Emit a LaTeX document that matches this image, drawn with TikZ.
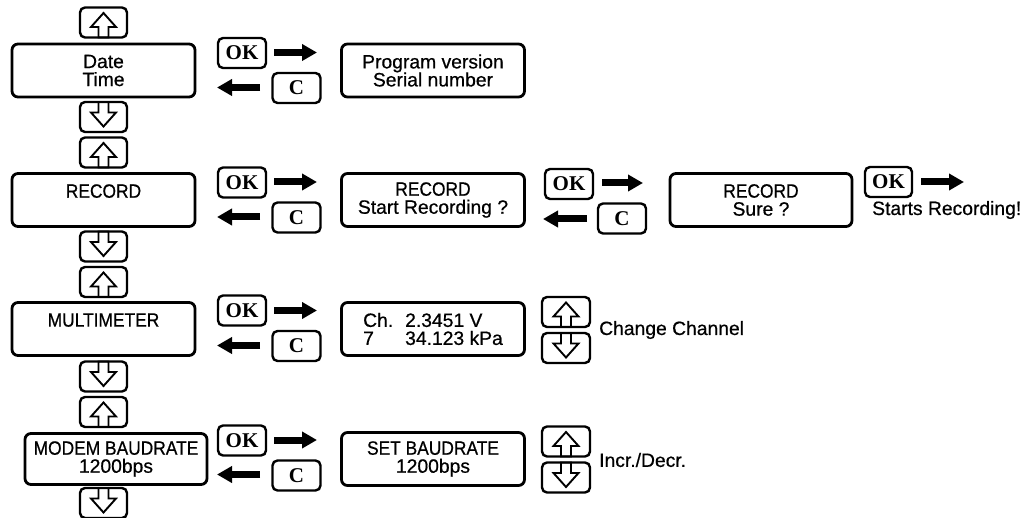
\documentclass[tikz,border=0pt]{standalone}
\usepackage{fontspec}
\setmainfont[FakeBold=0.6]{Liberation Sans}
\newfontfamily\capsf[FakeStretch=0.9,FakeBold=0.6]{Liberation Sans}
\newfontfamily\keyfont{Liberation Serif}
\usetikzlibrary{arrows.meta,calc}
\tikzset{
  lcd/.style={draw, line width=2.8pt, rounded corners=6pt, minimum width=183pt,
    minimum height=53pt, align=center, inner sep=0pt,
    font=\fontsize{19.3}{18}\selectfont},
  navkey/.style={draw, line width=2.4pt, rounded corners=5pt, minimum width=47pt,
    minimum height=30pt, inner sep=0pt},
  cmdkey/.style={draw, line width=2.4pt, rounded corners=5pt, minimum width=48pt,
    minimum height=30pt, inner sep=0pt,
    font=\keyfont\bfseries\fontsize{21}{21}\selectfont},
  keyarrow/.style={line width=1.9pt, line join=miter},
  bararrow/.style={line width=7pt, -{Triangle[length=15pt,width=16pt]}},
  note/.style={anchor=west, inner sep=0pt, font=\fontsize{19.3}{18}\selectfont},
}
\newcommand\uparrowin[1]{%
  \draw[keyarrow, shift={(#1.center)}] (0,-9.5) -- (12.5,4.5) -- (5,4.5) -- (5,15)
    -- (-5,15) -- (-5,4.5) -- (-12.5,4.5) -- cycle;}
\newcommand\downarrowin[1]{%
  \draw[keyarrow, shift={(#1.center)}] (0,9.5) -- (12.5,-4.5) -- (5,-4.5) -- (5,-15)
    -- (-5,-15) -- (-5,-4.5) -- (-12.5,-4.5) -- cycle;}
\begin{document}
\begin{tikzpicture}[x=1pt,y=-1pt]
\useasboundingbox (0,0) rectangle (1024,518);

% ---------- row 1 : Date / Time ----------
\node[navkey] (u1) at (103.5,22.5) {};
\node[lcd] (b1) at (103.5,70.5) {Date\\Time};
\node[navkey] (d1) at (103.5,117) {};
\uparrowin{u1}\downarrowin{d1}
\node[cmdkey] (ok1) at (242,53) {OK};
\node[cmdkey] (c1) at (296.5,88) {C};
\coordinate (r1a) at (274,52.5); \coordinate (r1b) at (317,52.5);
\coordinate (l1a) at (260,87.5); \coordinate (l1b) at (217,87.5);
\draw[bararrow] (r1a) -- (r1b);
\draw[bararrow] (l1a) -- (l1b);
\node[lcd] (p1) at (433,70.5) {Program version\\Serial number};

% ---------- row 2 : RECORD ----------
\node[navkey] (u2) at (103.5,152.5) {};
\node[lcd] (b2) at (103.5,200) {{\capsf RECORD}\\\mbox{}};
\node[navkey] (d2) at (103.5,246.5) {};
\uparrowin{u2}\downarrowin{d2}
\node[cmdkey] (ok2) at (242,182.5) {OK};
\node[cmdkey] (c2) at (296.5,217.5) {C};
\coordinate (r2a) at (274,182); \coordinate (r2b) at (317,182);
\coordinate (l2a) at (260,217); \coordinate (l2b) at (217,217);
\draw[bararrow] (r2a) -- (r2b);
\draw[bararrow] (l2a) -- (l2b);
\node[lcd] (p2) at (433,200) {{\capsf RECORD}\\Start Recording ?};
\node[cmdkey] (ok3) at (569,184) {OK};
\node[cmdkey] (c3) at (622,218.5) {C};
\coordinate (r3a) at (602,183); \coordinate (r3b) at (643,183);
\coordinate (l3a) at (587,219); \coordinate (l3b) at (543,219);
\draw[bararrow] (r3a) -- (r3b);
\draw[bararrow] (l3a) -- (l3b);
\node[lcd, minimum width=182pt] (s2) at (761,200) {{\capsf RECORD}\\Sure ?};
\node[cmdkey, minimum width=47pt] (ok4) at (888.5,182) {OK};
\coordinate (r4a) at (921,182); \coordinate (r4b) at (964,182);
\draw[bararrow] (r4a) -- (r4b);
\node[note] (go) at (872,210) {Starts Recording!};

% ---------- row 3 : MULTIMETER ----------
\node[navkey] (u3) at (103.5,282) {};
\node[lcd] (b3) at (103.5,329) {{\capsf MULTIMETER}\\\mbox{}};
\node[navkey] (d3) at (103.5,376.5) {};
\uparrowin{u3}\downarrowin{d3}
\node[cmdkey] (ok5) at (242,310.5) {OK};
\node[cmdkey] (c5) at (296.5,346) {C};
\coordinate (r5a) at (274,310.5); \coordinate (r5b) at (317,310.5);
\coordinate (l5a) at (260,345.5); \coordinate (l5b) at (217,345.5);
\draw[bararrow] (r5a) -- (r5b);
\draw[bararrow] (l5a) -- (l5b);
\node[lcd, align=left] (p3) at (433,329)
  {\makebox[42pt][l]{Ch.}2.3451 V\\\makebox[42pt][l]{7}34.123 kPa};
\node[navkey, minimum width=48pt] (u5) at (566,312) {};
\node[navkey, minimum width=48pt] (d5) at (566,348) {};
\uparrowin{u5}\downarrowin{d5}
\node[note] (cc) at (599,330) {Change Channel};

% ---------- row 4 : MODEM BAUDRATE ----------
\node[navkey] (u4) at (103.5,412) {};
\node[lcd, minimum width=182pt, minimum height=51pt] (b4) at (116,459) {{\capsf MODEM BAUDRATE}\\1200bps};
\node[navkey] (d4) at (103.5,503) {};
\uparrowin{u4}\downarrowin{d4}
\node[cmdkey] (ok6) at (242,440.5) {OK};
\node[cmdkey] (c6) at (296.5,475.5) {C};
\coordinate (r6a) at (274,440); \coordinate (r6b) at (317,440);
\coordinate (l6a) at (260,474.5); \coordinate (l6b) at (217,474.5);
\draw[bararrow] (r6a) -- (r6b);
\draw[bararrow] (l6a) -- (l6b);
\node[lcd] (p4) at (433,459) {{\capsf SET BAUDRATE}\\1200bps};
\node[navkey, minimum width=48pt] (u6) at (566,441.5) {};
\node[navkey, minimum width=48pt] (d6) at (566,477.5) {};
\uparrowin{u6}\downarrowin{d6}
\node[note] (id) at (599,460) {Incr./Decr.};
\end{tikzpicture}
\end{document}
